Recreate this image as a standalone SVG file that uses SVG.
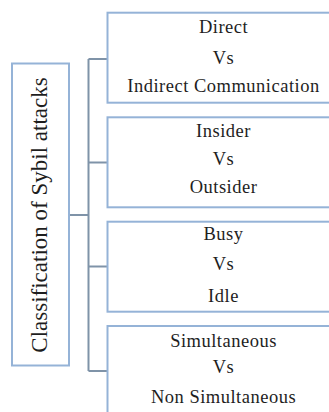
<svg xmlns="http://www.w3.org/2000/svg" width="329" height="412" viewBox="0 0 329 412">
  <style>
    .box { fill: #ffffff; stroke: #95b3d7; stroke-width: 2; }
    .link { fill: none; stroke: #7f93a8; stroke-width: 2; }
    .lbl { font-family: "Liberation Serif", "Times New Roman", serif; font-size: 18.5px; letter-spacing: 0.5px; fill: #1e1e1e; text-anchor: middle; }
    .root { font-family: "Liberation Serif", "Times New Roman", serif; font-size: 23px; fill: #1e1e1e; text-anchor: middle; }
  </style>
  <rect x="0" y="0" width="329" height="412" fill="#ffffff"/>

  <!-- connectors -->
  <g id="connectors">
    <path class="link" d="M69 215 H88.5"/>
    <path class="link" d="M88.5 59 V371"/>
    <path class="link" d="M88.5 59 H107.5"/>
    <path class="link" d="M88.5 162.5 H107.5"/>
    <path class="link" d="M88.5 266.5 H107.5"/>
    <path class="link" d="M88.5 371 H107.5"/>
  </g>

  <!-- root node -->
  <g id="root">
    <rect class="box" x="12" y="63.5" width="57" height="302"/>
    <text class="root" transform="translate(47 215) rotate(-90)">Classification of Sybil attacks</text>
  </g>

  <g id="direct">
    <rect class="box" x="107.5" y="12.7" width="235" height="90"/>
    <text class="lbl" x="223.5" y="32.7">Direct</text>
    <text class="lbl" x="223.5" y="64">Vs</text>
    <text class="lbl" x="223.5" y="91.7">Indirect Communication</text>
  </g>

  <g id="insider">
    <rect class="box" x="107.5" y="117.3" width="235" height="90"/>
    <text class="lbl" x="223.5" y="136.7">Insider</text>
    <text class="lbl" x="223.5" y="165">Vs</text>
    <text class="lbl" x="223.5" y="193.3">Outsider</text>
  </g>

  <g id="busy">
    <rect class="box" x="107.5" y="221.7" width="235" height="90"/>
    <text class="lbl" x="223.5" y="239.5">Busy</text>
    <text class="lbl" x="223.5" y="270">Vs</text>
    <text class="lbl" x="223.5" y="301.5">Idle</text>
  </g>

  <g id="simultaneous">
    <rect class="box" x="107.5" y="326" width="235" height="90"/>
    <text class="lbl" x="223.5" y="346.5">Simultaneous</text>
    <text class="lbl" x="223.5" y="373.3">Vs</text>
    <text class="lbl" x="223.5" y="403.3">Non Simultaneous</text>
  </g>
</svg>
